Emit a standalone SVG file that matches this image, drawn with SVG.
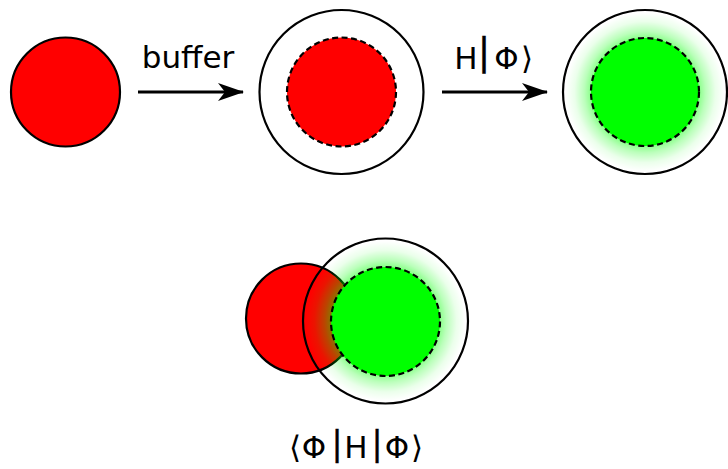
<svg xmlns="http://www.w3.org/2000/svg" width="728" height="469" viewBox="0 0 728 469">
<style>
.solid{stroke:#000;stroke-width:2.2}
.dash{stroke:#000;stroke-width:2.2;stroke-dasharray:6 3.5}
.red{fill:#ff0000}
.green{fill:#00ff00}
.lbl{font-family:"DejaVu Sans","Liberation Sans",sans-serif;font-size:31px;fill:#000;text-anchor:middle}
.bar{font-family:"DejaVu Sans","Liberation Sans",sans-serif;fill:#000;text-anchor:middle;stroke:#000;stroke-width:0.4}
.arrow{stroke:#000;stroke-width:2.8;fill:none}
</style>
<defs>
<marker id="ah" viewBox="0 0 26 18" refX="25" refY="9" markerWidth="26" markerHeight="18" markerUnits="userSpaceOnUse" orient="auto">
<path d="M0,0 L26,9 L0,18 L7,9 Z" fill="#000"/>
</marker>
<radialGradient id="glow" cx="0.5" cy="0.5" r="0.5">
<stop offset="0.64" stop-color="#00ff00" stop-opacity="0.5"/>
<stop offset="0.74" stop-color="#00ff00" stop-opacity="0.27"/>
<stop offset="0.86" stop-color="#00ff00" stop-opacity="0.08"/>
<stop offset="0.97" stop-color="#00ff00" stop-opacity="0"/>
</radialGradient>
</defs>
<g id="connectors">
<line class="arrow" x1="138" y1="92" x2="243" y2="92" marker-end="url(#ah)"/>
<line class="arrow" x1="442" y1="92" x2="547" y2="92" marker-end="url(#ah)"/>
</g>
<g id="node-red">
<circle class="red solid" cx="65.5" cy="92" r="54.5"/>
</g>
<g id="node-buffered">
<circle class="solid" fill="#fff" cx="341.5" cy="92" r="82"/>
<circle class="red dash" cx="341.5" cy="92" r="54.5"/>
</g>
<g id="node-green">
<circle class="solid" fill="url(#glow)" cx="645" cy="92" r="82"/>
<circle class="green dash" cx="645" cy="92" r="54"/>
</g>
<g id="node-overlap">
<circle class="red solid" cx="301" cy="318.5" r="55"/>
<circle class="solid" fill="url(#glow)" cx="385.5" cy="321" r="82.5"/>
<circle class="green dash" cx="385.5" cy="321.5" r="54.5"/>
</g>
<g id="labels">
<text class="lbl" x="188" y="68">buffer</text>
<text class="lbl" x="466" y="69">H</text>
<text class="bar" x="484" y="64.5" font-size="37">|</text>
<text class="lbl" x="506.5" y="69">Φ</text>
<text class="lbl" x="527" y="69">⟩</text>
<text class="lbl" x="295" y="458">⟨</text>
<text class="lbl" x="314" y="458">Φ</text>
<text class="bar" x="337" y="454.5" font-size="33">|</text>
<text class="lbl" x="356" y="458">H</text>
<text class="bar" x="377" y="454.5" font-size="33">|</text>
<text class="lbl" x="397" y="458">Φ</text>
<text class="lbl" x="417" y="458">⟩</text>
</g>
</svg>
